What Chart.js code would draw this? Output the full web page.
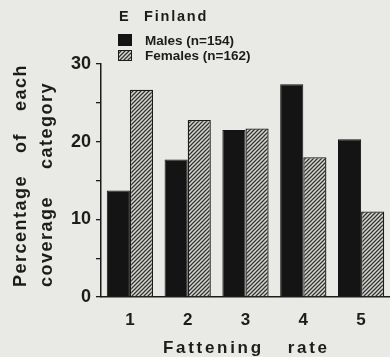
<!DOCTYPE html>
<html>
<head>
<meta charset="utf-8">
<script src="https://cdn.jsdelivr.net/npm/chart.js@4.4.1/dist/chart.umd.min.js"></script>
<style>
  html, body { margin: 0; padding: 0; background: #e9e9e6; }
  canvas { display: block; }
</style>
</head>
<body>
<canvas id="c" width="390" height="357"></canvas>
<script>
// ---- data ----
const categories = ['1', '2', '3', '4', '5'];
const males = [13.7, 17.7, 21.5, 27.4, 20.3];
const females = [26.7, 22.8, 21.7, 18.0, 11.0];
const yTickLabels = [0, 10, 20, 30];
const seriesLabels = ['Males (n=154)', 'Females (n=162)'];
const panelLetter = 'E';
const panelTitle = 'Finland';
const yTitleLine1 = ['Percentage', 'of', 'each'];
const yTitleLine2 = ['coverage', 'category'];
const xTitleWords = ['Fattening', 'rate'];

const BG = '#e9e9e6';
const INK = '#1c1c1c';
const FONT = '"Liberation Sans", Arial, Helvetica, sans-serif';

function makeHatch() {
  const s = 4;
  const c = document.createElement('canvas');
  c.width = s; c.height = s;
  const x = c.getContext('2d');
  x.fillStyle = '#d6d6d2';
  x.fillRect(0, 0, s, s);
  x.strokeStyle = '#333333';
  x.lineWidth = 1.25;
  x.beginPath();
  x.moveTo(-1, s + 1); x.lineTo(s + 1, -1);
  x.moveTo(-1, 1); x.lineTo(1, -1);
  x.moveTo(s - 1, s + 1); x.lineTo(s + 1, s - 1);
  x.stroke();
  return x.createPattern(c, 'repeat');
}
const hatch = makeHatch();

function drawWords(ctx, words, gap) {
  let pos = 0;
  words.forEach(w => {
    ctx.fillText(w, pos, 0);
    pos += ctx.measureText(w).width + gap;
  });
}

const decor = {
  id: 'decor',
  beforeDraw(chart) {
    const ctx = chart.ctx;
    ctx.save();
    ctx.fillStyle = BG;
    ctx.fillRect(0, 0, chart.width, chart.height);
    ctx.restore();
  },
  afterDraw(chart) {
    const ctx = chart.ctx;
    ctx.save();
    ctx.fillStyle = INK;
    ctx.textBaseline = 'alphabetic';
    ctx.textAlign = 'left';

    // panel title
    ctx.font = 'bold 14.5px ' + FONT;
    ctx.letterSpacing = '1.8px';
    ctx.fillText(panelLetter, 119, 21);
    ctx.fillText(panelTitle, 144, 21);

    // legend
    ctx.letterSpacing = '0px';
    ctx.fillStyle = '#141414';
    ctx.fillRect(118, 34, 14, 12);
    ctx.fillStyle = hatch;
    ctx.fillRect(118, 50, 14, 11);
    ctx.strokeStyle = INK;
    ctx.lineWidth = 1;
    ctx.strokeRect(118.5, 50.5, 13, 10);
    ctx.fillStyle = INK;
    ctx.font = 'bold 13.5px ' + FONT;
    ctx.fillText(seriesLabels[0], 145, 45);
    ctx.fillText(seriesLabels[1], 145, 60);

    // y title (rotated, two lines)
    const ya = chart.scales.y;
    ctx.font = 'bold 18px ' + FONT;
    ctx.letterSpacing = '1.5px';
    ctx.save();
    ctx.translate(26, ya.bottom - 10);
    ctx.rotate(-Math.PI / 2);
    drawWords(ctx, yTitleLine1, 22);
    ctx.restore();
    ctx.save();
    ctx.translate(52, ya.bottom - 10);
    ctx.rotate(-Math.PI / 2);
    drawWords(ctx, yTitleLine2, 27);
    ctx.restore();

    // x title
    ctx.letterSpacing = '2.7px';
    ctx.font = 'bold 17px ' + FONT;
    ctx.save();
    ctx.translate(163, 353);
    drawWords(ctx, xTitleWords, 24);
    ctx.restore();

    ctx.restore();
  }
};

new Chart(document.getElementById('c').getContext('2d'), {
  type: 'bar',
  data: {
    labels: categories,
    datasets: [
      { label: seriesLabels[0], data: males, backgroundColor: '#141414', borderColor: '#141414', borderWidth: 1 },
      { label: seriesLabels[1], data: females, backgroundColor: hatch, borderColor: INK, borderWidth: 1.3 }
    ]
  },
  options: {
    responsive: false,
    animation: false,
    events: [],
    layout: { padding: { top: 64, left: 0, right: 0, bottom: 0 } },
    datasets: { bar: { categoryPercentage: 0.8, barPercentage: 1.0 } },
    plugins: { legend: { display: false }, title: { display: false }, tooltip: { enabled: false } },
    scales: {
      x: {
        grid: { display: true, drawOnChartArea: false, drawTicks: false },
        border: { display: true, color: INK, width: 1.5 },
        ticks: { color: INK, font: { family: FONT, size: 17, weight: 'bold' }, padding: 13 },
        afterFit(s) { s.height = 60; }
      },
      y: {
        min: 0, max: 30,
        grid: { display: true, drawOnChartArea: false, drawTicks: true, tickLength: 5, color: INK, lineWidth: 1.3 },
        border: { display: true, color: INK, width: 1.5 },
        ticks: {
          stepSize: 5, autoSkip: false, color: INK, padding: 5,
          font: { family: FONT, size: 18, weight: 'bold' },
          callback: (v) => yTickLabels.includes(v) ? String(v) : ''
        },
        afterFit(s) { s.width = 101; }
      }
    }
  },
  plugins: [decor]
});
</script>
</body>
</html>
